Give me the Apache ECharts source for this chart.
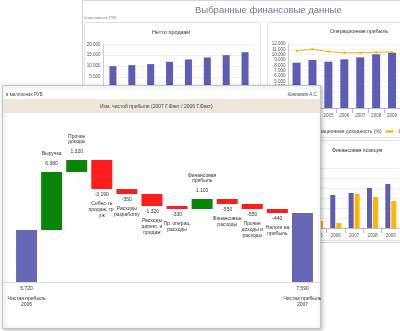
<!DOCTYPE html>
<html><head><meta charset="utf-8">
<script src="https://cdn.jsdelivr.net/npm/echarts@6/dist/echarts.min.js"></script>
<style>html,body{margin:0;padding:0;background:#fff}#c{width:400px;height:331px}</style>
</head><body><div id="c"></div>
<script>
// ---- Waterfall (front panel) ----
const wfNames = ['Чистая прибыль\n2006','Выручка','Прочие\nдоходы','Себес-ть\nпродаж, тр.\nуж','Расходы\nразработку','Расходы\nдирект. и\nпродаж','Пр. операц.\nрасходы','Финансовая\nприбыль','Финансовые\nрасходы','Прочие\nдоходы и\nрасходы','Налоги на\nприбыль','Чистая прибыль\n2007'];
const wfValues = [5720, 6380, 1320, -3190, -550, -1320, -330, 1100, -550, -550, -440, 7590];
const wfKinds = ['total','delta','delta','delta','delta','delta','delta','delta','delta','delta','delta','total'];

// ---- Background: Нетто продажи ----
const salesYears = ['2002','2003','2004','2005','2006','2007','2008','2009'];
const salesValues = [9950, 10400, 10880, 11940, 13050, 13980, 15050, 16430];
const salesTicks = [0, 5000, 10000, 15000, 20000];

// ---- Background: Операционная прибыль ----
const opYears = ['2003','2004','2005','2006','2007','2008','2009'];
const opProfit = [8500, 9000, 8680, 9130, 9500, 10070, 10370];
const opMargin = [22.3, 23.0, 22.0, 21.6, 21.6, 21.8, 21.9];

// ---- Background: Финансовая позиция ----
const posYears = ['2005','2006','2007','2008','2009'];
const posAssets = [2800, 3300, 3500, 4000, 4400];
const posDebt = [700, 500, 3400, 3100, 2700];

const fmt = n => (n < 0 ? '-' : '') + String(Math.abs(n)).replace(/\B(?=(\d{3})+(?!\d))/g, '.');

// build waterfall stacks
const baseData = [], totalData = [], upData = [], downData = [];
let cum = 0;
wfValues.forEach((v, i) => {
  if (wfKinds[i] === 'total') {
    baseData.push(0); totalData.push(v); upData.push('-'); downData.push('-');
    cum = v;
  } else if (v >= 0) {
    baseData.push(cum); upData.push(v); totalData.push('-'); downData.push('-');
    cum += v;
  } else {
    baseData.push(cum + v); downData.push(-v); totalData.push('-'); upData.push('-');
    cum += v;
  }
});

const FONT = 'Liberation Sans, Arial, sans-serif';
const nameLines = s => s.split('\n').map(l => '{n|' + l + '}').join('\n');

const chart = echarts.init(document.getElementById('c'), null, {renderer: 'canvas'});
const smallAxisLabel = {fontSize: 4.5, color: '#555', fontFamily: FONT};

chart.setOption({
  animation: false,
  textStyle: {fontFamily: FONT},
  legend: {
    left: 292, top: 124, width: 300, itemWidth: 8, itemHeight: 4, itemGap: 3,
    textStyle: {fontSize: 5, color: '#444', padding: 0},
    data: ['Операционная доходность (%)', 'Операционная маржа'],
    z: 4
  },
  graphic: [
    // background dashboard panel
    {type: 'rect', shape: {x: 82.5, y: 0.5, width: 330, height: 242}, style: {fill: '#fff', stroke: '#d6d6d6', lineWidth: 1}, z: -10},
    {type: 'text', left: 195, top: 5, style: {text: 'Выбранные финансовые данные', fontSize: 9.5, fill: '#71759f', fontFamily: FONT}, z: -5},
    {type: 'text', left: 84, top: 16, style: {text: 'в миллионах РУБ', fontSize: 4, fill: '#7a7fa8', fontFamily: FONT}, z: -5},
    {type: 'rect', shape: {x: 84.5, y: 22.5, width: 176, height: 200}, style: {fill: 'none', stroke: '#e2e2e2', lineWidth: 1}, z: -5},
    {type: 'rect', shape: {x: 267.5, y: 22.5, width: 140, height: 115}, style: {fill: 'none', stroke: '#e2e2e2', lineWidth: 1}, z: -5},
    {type: 'rect', shape: {x: 267.5, y: 140.5, width: 140, height: 100}, style: {fill: 'none', stroke: '#e2e2e2', lineWidth: 1}, z: -5},
    {type: 'text', left: 152, top: 29, style: {text: 'Нетто продажи', fontSize: 5.5, fill: '#333', fontFamily: FONT}, z: -5},
    {type: 'text', left: 330, top: 29, style: {text: 'Операционная прибыль', fontSize: 5.2, fill: '#333', fontFamily: FONT}, z: -5},
    {type: 'text', left: 332, top: 148, style: {text: 'Финансовая позиция', fontSize: 5.2, fill: '#333', fontFamily: FONT}, z: -5},
    // front panel
    {type: 'rect', shape: {x: 2.5, y: 85.5, width: 318, height: 243}, style: {fill: '#fff', stroke: '#c4c4c4', lineWidth: 1, shadowBlur: 4, shadowColor: 'rgba(0,0,0,0.25)', shadowOffsetX: 1, shadowOffsetY: 1}, z: 50},
    {type: 'rect', shape: {x: 3, y: 99, width: 317, height: 14}, style: {fill: '#eee6da'}, z: 51},
    {type: 'text', left: 6, top: 92.5, style: {text: 'в миллионах РУБ', fontSize: 4.5, fill: '#444', fontFamily: FONT}, z: 52},
    {type: 'text', right: 82, top: 92.5, style: {text: 'Компания А.С.', fontSize: 4.5, fill: '#444', fontFamily: FONT}, z: 52},
    {type: 'text', left: 100, top: 104, style: {text: 'Изм. чистой прибыли (2007 Г.Факт / 2006 Г.Факт)', fontSize: 5, fill: '#444', fontFamily: FONT}, z: 52},
    {type: 'line', shape: {x1: 3, y1: 282.5, x2: 320, y2: 282.5}, style: {stroke: '#dcdcdc', lineWidth: 1}, z: 52}
  ],
  grid: [
    {left: 14, right: 85, top: 145.6, bottom: 49},
    {left: 103.5, right: 145.5, top: 44.5, bottom: 243.5},
    {left: 288.6, right: -6, top: 44, bottom: 223},
    {left: 308.25, right: -0.75, top: 168, bottom: 103}
  ],
  xAxis: [
    {gridIndex: 0, type: 'category', data: wfNames, show: false},
    {gridIndex: 1, type: 'category', data: salesYears, axisLine: {show: false}, axisTick: {show: false}, axisLabel: {show: false}},
    {gridIndex: 2, type: 'category', data: opYears, axisLine: {lineStyle: {color: '#bbb'}}, axisTick: {show: true, lineStyle: {color: '#bbb'}}, axisLabel: Object.assign({margin: 5}, smallAxisLabel)},
    {gridIndex: 3, type: 'category', data: posYears, axisLine: {lineStyle: {color: '#bbb'}}, axisTick: {show: true, lineStyle: {color: '#bbb'}}, axisLabel: Object.assign({margin: 5}, smallAxisLabel)}
  ],
  yAxis: [
    {gridIndex: 0, type: 'value', min: 0, max: 15000, show: false},
    {gridIndex: 1, type: 'value', min: salesTicks[0], max: salesTicks[salesTicks.length - 1], interval: 5000,
      axisLine: {show: true, lineStyle: {color: '#ccc'}}, axisTick: {show: false},
      splitLine: {lineStyle: {color: '#f0f0f0'}},
      axisLabel: Object.assign({formatter: v => fmt(v), margin: 3}, smallAxisLabel)},
    {gridIndex: 2, type: 'value', min: 0, max: 12000, interval: 1000,
      axisLine: {show: true, lineStyle: {color: '#ccc'}}, axisTick: {show: false},
      splitLine: {lineStyle: {color: '#f2f2f2'}},
      axisLabel: Object.assign({formatter: v => fmt(v), margin: 3}, smallAxisLabel)},
    {gridIndex: 2, type: 'value', min: 0, max: 25, show: false},
    {gridIndex: 3, type: 'value', min: 0, max: 6000, interval: 1000, axisLine: {show: false}, axisTick: {show: false},
      splitLine: {lineStyle: {color: '#f0f0f0'}}, axisLabel: {show: false}}
  ],
  series: [
    // background charts
    {type: 'bar', name: 'Нетто продажи', xAxisIndex: 1, yAxisIndex: 1, data: salesValues, barWidth: 7, itemStyle: {color: '#5d5db5'}},
    {type: 'bar', name: 'Операционная доходность (%)', xAxisIndex: 2, yAxisIndex: 2, data: opProfit, barWidth: 8, itemStyle: {color: '#5d5db5'}},
    {type: 'line', name: 'Операционная маржа', xAxisIndex: 2, yAxisIndex: 3, data: opMargin, symbol: 'diamond', symbolSize: 3,
      lineStyle: {color: '#f5b400', width: 1}, itemStyle: {color: '#f5b400'}},
    {type: 'bar', name: 'Активы', xAxisIndex: 3, yAxisIndex: 4, data: posAssets, barWidth: 5, barGap: '20%', itemStyle: {color: '#5d5db5'}},
    {type: 'bar', name: 'Обязательства', xAxisIndex: 3, yAxisIndex: 4, data: posDebt, barWidth: 5, barGap: '20%', itemStyle: {color: '#ffb400'}},
    // waterfall
    {type: 'bar', name: 'base', xAxisIndex: 0, yAxisIndex: 0, stack: 'wf', data: baseData, barWidth: 21, itemStyle: {color: 'transparent'}, silent: true, z: 60},
    {type: 'bar', name: 'total', xAxisIndex: 0, yAxisIndex: 0, stack: 'wf', data: totalData, barWidth: 21, z: 60,
      itemStyle: {color: '#6767b6'},
      label: {show: true, position: 'bottom', distance: 0, color: '#333',
        formatter: p => '{v|' + fmt(p.value) + '}\n' + nameLines(p.name),
        rich: {v: {fontSize: 5, lineHeight: 14, color: '#333'}, n: {fontSize: 5, lineHeight: 6, color: '#333'}}}},
    {type: 'bar', name: 'up', xAxisIndex: 0, yAxisIndex: 0, stack: 'wf', data: upData, barWidth: 21, z: 60,
      itemStyle: {color: '#0a850a'},
      label: {show: true, position: 'top', distance: 0, color: '#333',
        formatter: p => nameLines(p.name) + '\n{v|' + fmt(p.value) + '}',
        rich: {v: {fontSize: 5, lineHeight: 16, color: '#333'}, n: {fontSize: 5, lineHeight: 5, color: '#333'}}}},
    {type: 'bar', name: 'down', xAxisIndex: 0, yAxisIndex: 0, stack: 'wf', data: downData, barWidth: 21, z: 60,
      itemStyle: {color: '#ff1c1c'},
      label: {show: true, position: 'bottom', distance: 0, color: '#333',
        formatter: p => '{v|' + fmt(-p.value) + '}\n' + nameLines(p.name),
        rich: {v: {fontSize: 5, lineHeight: 12, color: '#333'}, n: {fontSize: 5, lineHeight: 6, color: '#333'}}}}
  ]
});
</script></body></html>
